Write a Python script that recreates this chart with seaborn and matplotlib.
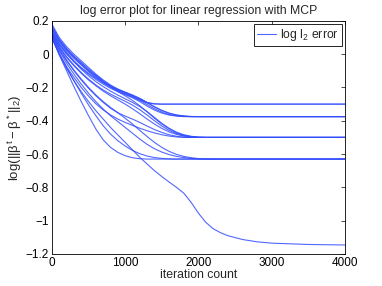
import numpy as np
import pandas as pd
import matplotlib
matplotlib.use("Agg")
import matplotlib.pyplot as plt
from matplotlib.lines import Line2D
import seaborn as sns

iterations = [0, 100, 200, 300, 400, 500, 600, 700, 800, 900,
              1000, 1100, 1200, 1300, 1400, 1500, 1600, 1700, 1800, 1900,
              2000, 2100, 2200, 2300, 2400, 2600, 2800, 3000, 3500, 4000]

# runs that settle at -0.30
run_a1 = [0.18, 0.10, 0.045, 0.0, -0.04, -0.08, -0.12, -0.155, -0.185, -0.21,
          -0.23, -0.25, -0.272, -0.29, -0.298, -0.30, -0.30, -0.30, -0.30, -0.30,
          -0.30, -0.30, -0.30, -0.30, -0.30, -0.30, -0.30, -0.30, -0.30, -0.30]
run_a2 = [0.16, 0.085, 0.03, -0.015, -0.055, -0.095, -0.13, -0.165, -0.195, -0.22,
          -0.24, -0.258, -0.277, -0.292, -0.299, -0.30, -0.30, -0.30, -0.30, -0.30,
          -0.30, -0.30, -0.30, -0.30, -0.30, -0.30, -0.30, -0.30, -0.30, -0.30]
# runs that settle at -0.375
run_b1 = [0.17, 0.09, 0.035, -0.01, -0.05, -0.09, -0.125, -0.16, -0.19, -0.21,
          -0.228, -0.245, -0.265, -0.29, -0.315, -0.337, -0.354, -0.366, -0.372, -0.375,
          -0.375, -0.375, -0.375, -0.375, -0.375, -0.375, -0.375, -0.375, -0.375, -0.375]
run_b2 = [0.15, 0.075, 0.02, -0.025, -0.065, -0.105, -0.14, -0.17, -0.197, -0.218,
          -0.236, -0.254, -0.276, -0.303, -0.328, -0.348, -0.362, -0.37, -0.374, -0.375,
          -0.375, -0.375, -0.375, -0.375, -0.375, -0.375, -0.375, -0.375, -0.375, -0.375]
run_b3 = [0.13, 0.055, 0.0, -0.045, -0.085, -0.12, -0.152, -0.18, -0.205, -0.225,
          -0.243, -0.262, -0.285, -0.312, -0.336, -0.354, -0.366, -0.372, -0.375, -0.375,
          -0.375, -0.375, -0.375, -0.375, -0.375, -0.375, -0.375, -0.375, -0.375, -0.375]
run_b4 = [0.14, 0.065, 0.01, -0.04, -0.08, -0.115, -0.145, -0.172, -0.195, -0.213,
          -0.23, -0.248, -0.268, -0.292, -0.318, -0.34, -0.355, -0.365, -0.371, -0.374,
          -0.375, -0.375, -0.375, -0.375, -0.375, -0.375, -0.375, -0.375, -0.375, -0.375]
# runs that settle at -0.50
run_c1 = [0.155, 0.08, 0.025, -0.02, -0.06, -0.10, -0.135, -0.168, -0.198, -0.225,
          -0.25, -0.278, -0.31, -0.347, -0.385, -0.42, -0.449, -0.472, -0.487, -0.495,
          -0.499, -0.50, -0.50, -0.50, -0.50, -0.50, -0.50, -0.50, -0.50, -0.50]
run_c2 = [0.12, 0.04, -0.02, -0.07, -0.115, -0.155, -0.19, -0.222, -0.25, -0.275,
          -0.30, -0.328, -0.358, -0.39, -0.42, -0.446, -0.467, -0.482, -0.492, -0.497,
          -0.50, -0.50, -0.50, -0.50, -0.50, -0.50, -0.50, -0.50, -0.50, -0.50]
run_c3 = [0.11, 0.025, -0.04, -0.10, -0.155, -0.205, -0.25, -0.29, -0.325, -0.352,
          -0.372, -0.39, -0.41, -0.432, -0.453, -0.47, -0.484, -0.493, -0.498, -0.50,
          -0.50, -0.50, -0.50, -0.50, -0.50, -0.50, -0.50, -0.50, -0.50, -0.50]
run_c4 = [0.135, 0.06, 0.005, -0.045, -0.09, -0.13, -0.165, -0.195, -0.222, -0.246,
          -0.268, -0.29, -0.315, -0.345, -0.38, -0.415, -0.445, -0.468, -0.484, -0.493,
          -0.498, -0.50, -0.50, -0.50, -0.50, -0.50, -0.50, -0.50, -0.50, -0.50]
run_c5 = [0.095, 0.0, -0.075, -0.14, -0.20, -0.252, -0.298, -0.335, -0.365, -0.39,
          -0.41, -0.428, -0.445, -0.46, -0.473, -0.484, -0.492, -0.497, -0.50, -0.50,
          -0.50, -0.50, -0.50, -0.50, -0.50, -0.50, -0.50, -0.50, -0.50, -0.50]
run_c6 = [0.125, 0.045, -0.015, -0.065, -0.11, -0.15, -0.185, -0.215, -0.24, -0.262,
          -0.283, -0.306, -0.334, -0.366, -0.40, -0.432, -0.458, -0.477, -0.49, -0.497,
          -0.50, -0.50, -0.50, -0.50, -0.50, -0.50, -0.50, -0.50, -0.50, -0.50]
# runs that settle at -0.63
run_d1 = [0.10, -0.005, -0.10, -0.195, -0.285, -0.37, -0.45, -0.515, -0.56, -0.59,
          -0.61, -0.622, -0.628, -0.63, -0.63, -0.63, -0.63, -0.63, -0.63, -0.63,
          -0.63, -0.63, -0.63, -0.63, -0.63, -0.63, -0.63, -0.63, -0.63, -0.63]
run_d2 = [0.105, 0.005, -0.08, -0.16, -0.235, -0.305, -0.37, -0.43, -0.48, -0.52,
          -0.552, -0.578, -0.598, -0.612, -0.621, -0.626, -0.629, -0.63, -0.63, -0.63,
          -0.63, -0.63, -0.63, -0.63, -0.63, -0.63, -0.63, -0.63, -0.63, -0.63]
run_d3 = [0.115, 0.02, -0.055, -0.12, -0.18, -0.235, -0.285, -0.33, -0.37, -0.405,
          -0.44, -0.475, -0.51, -0.542, -0.568, -0.588, -0.603, -0.614, -0.621, -0.626,
          -0.629, -0.63, -0.63, -0.63, -0.63, -0.63, -0.63, -0.63, -0.63, -0.63]
run_d4 = [0.125, 0.035, -0.035, -0.095, -0.15, -0.20, -0.245, -0.285, -0.32, -0.352,
          -0.385, -0.42, -0.458, -0.495, -0.53, -0.56, -0.584, -0.602, -0.614, -0.622,
          -0.627, -0.629, -0.63, -0.63, -0.63, -0.63, -0.63, -0.63, -0.63, -0.63]
# the one run that goes all the way down
run_e = [0.10, 0.0, -0.085, -0.16, -0.225, -0.285, -0.34, -0.39, -0.44, -0.485,
         -0.53, -0.575, -0.62, -0.66, -0.70, -0.735, -0.768, -0.80, -0.835, -0.89,
         -0.955, -1.01, -1.048, -1.072, -1.09, -1.113, -1.127, -1.135, -1.143, -1.146]

runs = [run_a1, run_a2, run_b1, run_b2, run_b3, run_b4, run_c1, run_c2, run_c3,
        run_c4, run_c5, run_c6, run_d1, run_d2, run_d3, run_d4, run_e]

x_ticks = [0, 1000, 2000, 3000, 4000]
y_ticks = [-1.2, -1.0, -0.8, -0.6, -0.4, -0.2, 0.0, 0.2]
y_tick_labels = ['\u22121.2', '\u22121', '\u22120.8', '\u22120.6', '\u22120.4', '\u22120.2', '0', '0.2']

# long table, one block per run (DataFrame raises if a run has the wrong length)
frames = []
for i, vals in enumerate(runs):
    frames.append(pd.DataFrame({'iteration': iterations, 'log_err': vals, 'run': i}))
df = pd.concat(frames, ignore_index=True)

sns.set_style('white')
plt.rcParams['font.family'] = ['Liberation Sans', 'DejaVu Sans']
plt.rcParams['mathtext.fontset'] = 'custom'
plt.rcParams['mathtext.rm'] = 'Liberation Sans'
plt.rcParams['mathtext.it'] = 'Liberation Sans'

fig = plt.figure(figsize=(3.82, 2.86), dpi=100)
ax = fig.add_axes([0.136, 0.112, 0.767, 0.815])

line_color = (0.2, 0.3, 1.0)
sns.lineplot(data=df, x='iteration', y='log_err', units='run', estimator=None,
             color=line_color, lw=0.8, alpha=0.85, legend=False, ax=ax)

ax.set_xlim(0, 4000)
ax.set_ylim(-1.2, 0.2)
ax.set_xticks(x_ticks)
ax.set_xticklabels([str(t) for t in x_ticks])
ax.set_yticks(y_ticks)
ax.set_yticklabels(y_tick_labels)
ax.tick_params(direction='in', length=3, width=0.5, top=True, right=True,
               labelsize=8.5, pad=2, colors='black')
for s in ax.spines.values():
    s.set_visible(True)
    s.set_color('black')
    s.set_linewidth(0.6)

ax.set_title('log error plot for linear regression with MCP', fontsize=8.8, pad=5)
ax.set_xlabel('iteration count', fontsize=8.8, labelpad=0)
ax.set_ylabel(r'log($||\beta^t - \beta^*||_2$)', fontsize=9.5, labelpad=1)

handle = Line2D([0], [0], color=line_color, lw=0.8, alpha=0.85)
leg = ax.legend([handle], [r'log l$_2$ error'], loc='upper right', fontsize=8.8,
                frameon=True, fancybox=False, framealpha=1, edgecolor='black',
                handlelength=1.6, handletextpad=0.3, borderpad=0.25,
                borderaxespad=0.25)
leg.get_frame().set_linewidth(0.6)

fig.savefig('out.png', dpi=100)
